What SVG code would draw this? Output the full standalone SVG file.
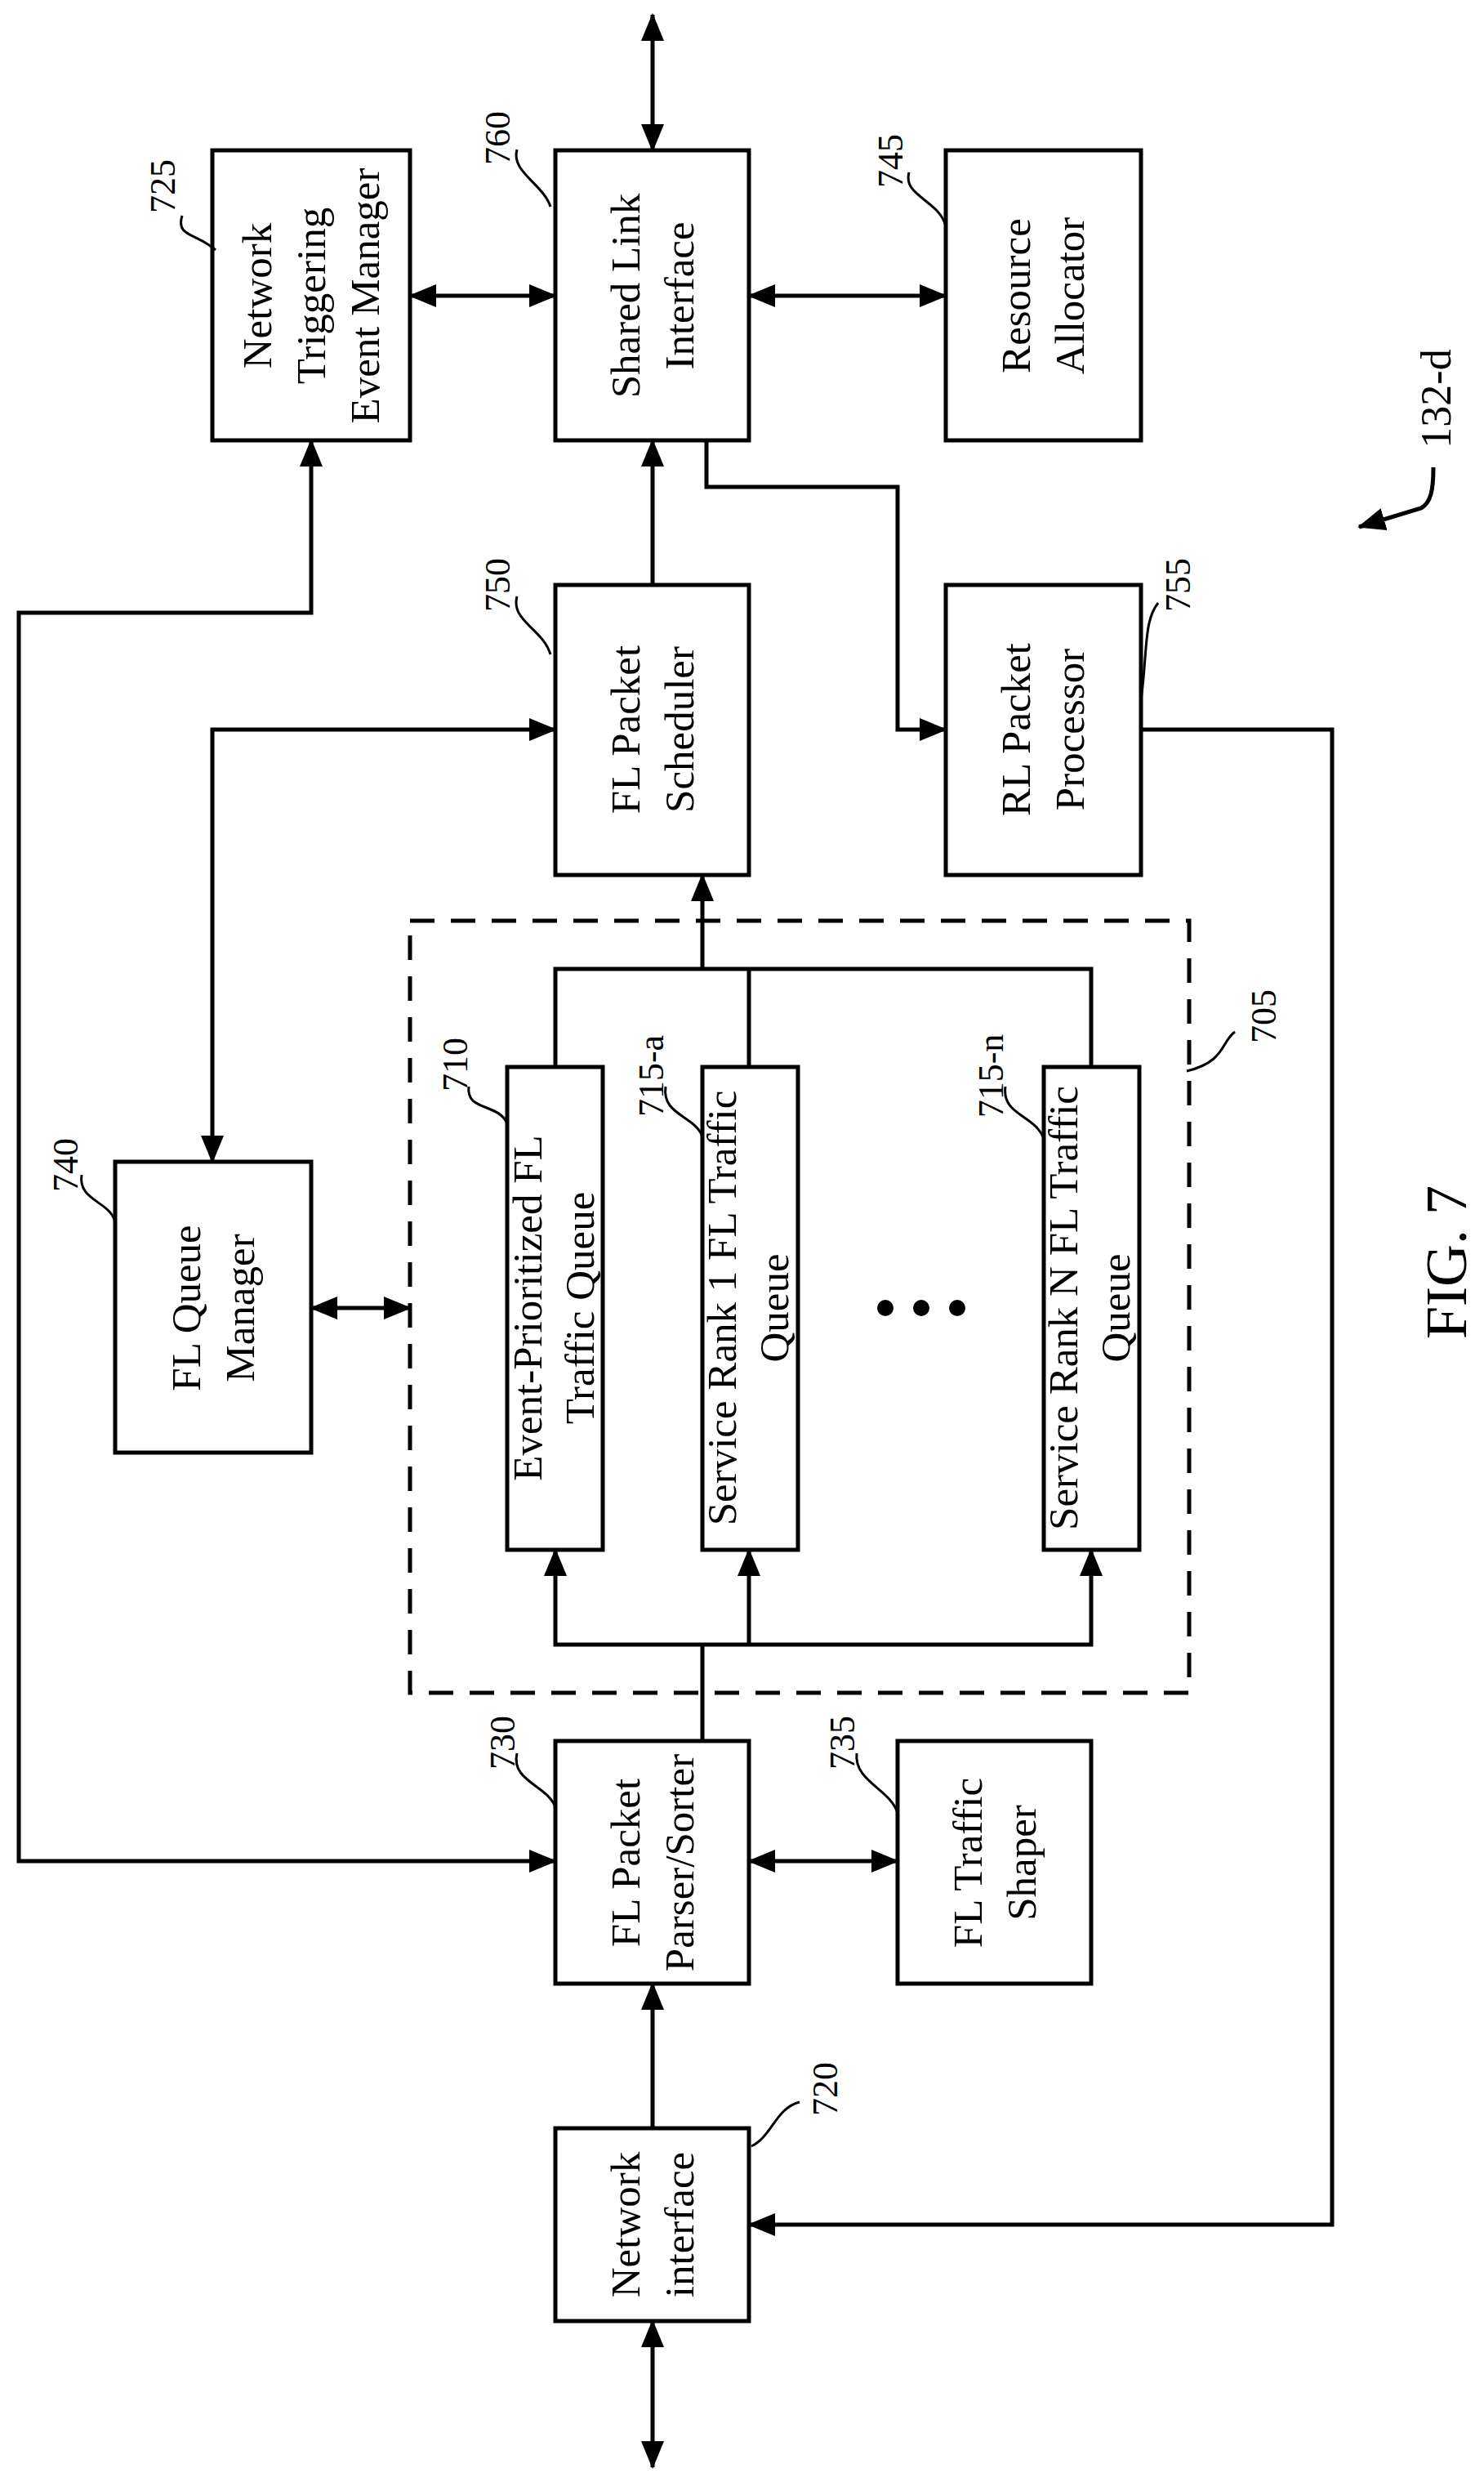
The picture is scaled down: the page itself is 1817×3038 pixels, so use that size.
<svg xmlns="http://www.w3.org/2000/svg" width="1817" height="3038" viewBox="0 0 1817 3038">
<style>
.box{fill:#fff;stroke:#000;stroke-width:5}
.ln{fill:none;stroke:#000;stroke-width:5}
.sq{fill:none;stroke:#000;stroke-width:3}
.t{font-family:"Liberation Serif",serif;font-size:51px;text-anchor:middle;fill:#000}
.n{font-family:"Liberation Serif",serif;font-size:44px;text-anchor:middle;fill:#000}
</style>
<defs>
<marker id="a" markerUnits="userSpaceOnUse" markerWidth="34" markerHeight="28" refX="32" refY="14" orient="auto-start-reverse"><path d="M0,0 L34,14 L0,28 Z" fill="#000"/></marker>
</defs>
<g id="connectors">
<line class="ln" x1="799" y1="184" x2="799" y2="18" marker-start="url(#a)" marker-end="url(#a)"/>
<line class="ln" x1="502" y1="362" x2="680" y2="362" marker-start="url(#a)" marker-end="url(#a)"/>
<line class="ln" x1="917" y1="362" x2="1158" y2="362" marker-start="url(#a)" marker-end="url(#a)"/>
<polyline class="ln" points="865,539 865,596 1099,596 1099,893 1158,893" marker-end="url(#a)"/>
<line class="ln" x1="799" y1="716" x2="799" y2="539" marker-end="url(#a)"/>
<polyline class="ln" points="1397,893 1631,893 1631,2723 917,2723" marker-end="url(#a)"/>
<polyline class="ln" points="381,539 381,750 23,750 23,2278 680,2278" marker-start="url(#a)" marker-end="url(#a)"/>
<polyline class="ln" points="680,893 260,893 260,1422" marker-start="url(#a)" marker-end="url(#a)"/>
<line class="ln" x1="381" y1="1601" x2="502" y2="1601" marker-start="url(#a)" marker-end="url(#a)"/>
<polyline class="ln" points="680,1306 680,1186 1336,1186 1336,1306"/>
<line class="ln" x1="917" y1="1186" x2="917" y2="1306"/>
<line class="ln" x1="860" y1="1186" x2="860" y2="1071" marker-end="url(#a)"/>
<polyline class="ln" points="680,1897 680,2013 1336,2013 1336,1897" marker-end="url(#a)" marker-start="url(#a)"/>
<line class="ln" x1="917" y1="2013" x2="917" y2="1897" marker-end="url(#a)"/>
<line class="ln" x1="860" y1="2131" x2="860" y2="2013"/>
<line class="ln" x1="799" y1="2605" x2="799" y2="2428" marker-end="url(#a)"/>
<line class="ln" x1="917" y1="2278" x2="1099" y2="2278" marker-start="url(#a)" marker-end="url(#a)"/>
<line class="ln" x1="799" y1="2841" x2="799" y2="3020" marker-start="url(#a)" marker-end="url(#a)"/>
<path class="ln" d="M1755,572 C1755,600 1752,615 1740,622 L1664,645" marker-end="url(#a)"/>
</g>
<g id="n705"><rect x="502" y="1127" width="954" height="945" fill="none" stroke="#000" stroke-width="5" stroke-dasharray="30,20"/>
<path class="sq" d="M1512,1263 C1495,1275 1500,1300 1453,1311"/><text class="n" transform="translate(1547,1244) rotate(-90)" dy="15">705</text></g>
<g id="n725"><rect class="box" x="260" y="184" width="242" height="355"/>
<text class="t" transform="translate(381,362) rotate(-90)"><tspan x="0" y="-49">Network</tspan><tspan x="0" y="17">Triggering</tspan><tspan x="0" y="83">Event Manager</tspan></text>
<path class="sq" d="M223,264 C215,290 240,285 264,306"/><text class="n" transform="translate(199,228) rotate(-90)" dy="15">725</text></g>
<g id="n760"><rect class="box" x="680" y="184" width="237" height="355"/>
<text class="t" transform="translate(799,362) rotate(-90)"><tspan x="0" y="-16">Shared Link</tspan><tspan x="0" y="50">Interface</tspan></text>
<path class="sq" d="M633,183 C625,210 665,225 674,253"/><text class="n" transform="translate(609,169) rotate(-90)" dy="15">760</text></g>
<g id="n745"><rect class="box" x="1158" y="184" width="239" height="355"/>
<text class="t" transform="translate(1277,362) rotate(-90)"><tspan x="0" y="-16">Resource</tspan><tspan x="0" y="50">Allocator</tspan></text>
<path class="sq" d="M1113,211 C1105,240 1150,245 1158,277"/><text class="n" transform="translate(1090,197) rotate(-90)" dy="15">745</text></g>
<g id="n750"><rect class="box" x="680" y="716" width="237" height="355"/>
<text class="t" transform="translate(799,893) rotate(-90)"><tspan x="0" y="-16">FL Packet</tspan><tspan x="0" y="50">Scheduler</tspan></text>
<path class="sq" d="M633,730 C625,760 665,770 674,801"/><text class="n" transform="translate(609,716) rotate(-90)" dy="15">750</text></g>
<g id="n755"><rect class="box" x="1158" y="716" width="239" height="355"/>
<text class="t" transform="translate(1277,893) rotate(-90)"><tspan x="0" y="-16">RL Packet</tspan><tspan x="0" y="50">Processor</tspan></text>
<path class="sq" d="M1418,738 C1400,760 1405,800 1397,857"/><text class="n" transform="translate(1442,716) rotate(-90)" dy="15">755</text></g>
<g id="n740"><rect class="box" x="141" y="1422" width="240" height="356"/>
<text class="t" transform="translate(261,1601) rotate(-90)"><tspan x="0" y="-16">FL Queue</tspan><tspan x="0" y="50">Manager</tspan></text>
<path class="sq" d="M100,1438 C95,1470 135,1470 141,1496"/><text class="n" transform="translate(80,1426) rotate(-90)" dy="15">740</text></g>
<g id="n710"><rect class="box" x="621" y="1306" width="117" height="591"/>
<text class="t" transform="translate(680,1601) rotate(-90)"><tspan x="0" y="-17">Event-Prioritized FL</tspan><tspan x="0" y="47">Traffic Queue</tspan></text>
<path class="sq" d="M574,1330 C570,1360 610,1350 621,1375"/><text class="n" transform="translate(557,1303) rotate(-90)" dy="15">710</text></g>
<g id="n715a"><rect class="box" x="860" y="1306" width="117" height="591"/>
<text class="t" transform="translate(918,1601) rotate(-90)"><tspan x="0" y="-17">Service Rank 1 FL Traffic</tspan><tspan x="0" y="47">Queue</tspan></text>
<path class="sq" d="M815,1330 C810,1365 850,1365 860,1391"/><text class="n" transform="translate(797,1317) rotate(-90)" dy="15">715-a</text></g>
<g id="n715n"><rect class="box" x="1278" y="1306" width="117" height="591"/>
<text class="t" transform="translate(1336,1601) rotate(-90)"><tspan x="0" y="-17">Service Rank N FL Traffic</tspan><tspan x="0" y="47">Queue</tspan></text>
<path class="sq" d="M1231,1330 C1226,1365 1268,1365 1278,1394"/><text class="n" transform="translate(1213,1317) rotate(-90)" dy="15">715-n</text></g>
<g id="dots"><circle cx="1084" cy="1601" r="10"/><circle cx="1128" cy="1601" r="10"/><circle cx="1172" cy="1601" r="10"/></g>
<g id="n730"><rect class="box" x="680" y="2131" width="237" height="297"/>
<text class="t" transform="translate(799,2280) rotate(-90)"><tspan x="0" y="-16">FL Packet</tspan><tspan x="0" y="50">Parser/Sorter</tspan></text>
<path class="sq" d="M633,2146 C625,2180 670,2185 680,2212"/><text class="n" transform="translate(615,2133) rotate(-90)" dy="15">730</text></g>
<g id="n735"><rect class="box" x="1099" y="2131" width="237" height="297"/>
<text class="t" transform="translate(1218,2280) rotate(-90)"><tspan x="0" y="-16">FL Traffic</tspan><tspan x="0" y="50">Shaper</tspan></text>
<path class="sq" d="M1049,2146 C1045,2180 1090,2190 1099,2219"/><text class="n" transform="translate(1031,2133) rotate(-90)" dy="15">735</text></g>
<g id="n720"><rect class="box" x="680" y="2605" width="237" height="236"/>
<text class="t" transform="translate(799,2723) rotate(-90)"><tspan x="0" y="-16">Network</tspan><tspan x="0" y="50">interface</tspan></text>
<path class="sq" d="M979,2573 C950,2580 945,2615 920,2627"/><text class="n" transform="translate(1010,2557) rotate(-90)" dy="15">720</text></g>
<text class="n" style="font-size:52px" transform="translate(1758,488) rotate(-90)" dy="18">132-d</text>
<text class="t" style="font-size:72px" transform="translate(1770,1545) rotate(-90)" dy="25">FIG. 7</text>
</svg>
